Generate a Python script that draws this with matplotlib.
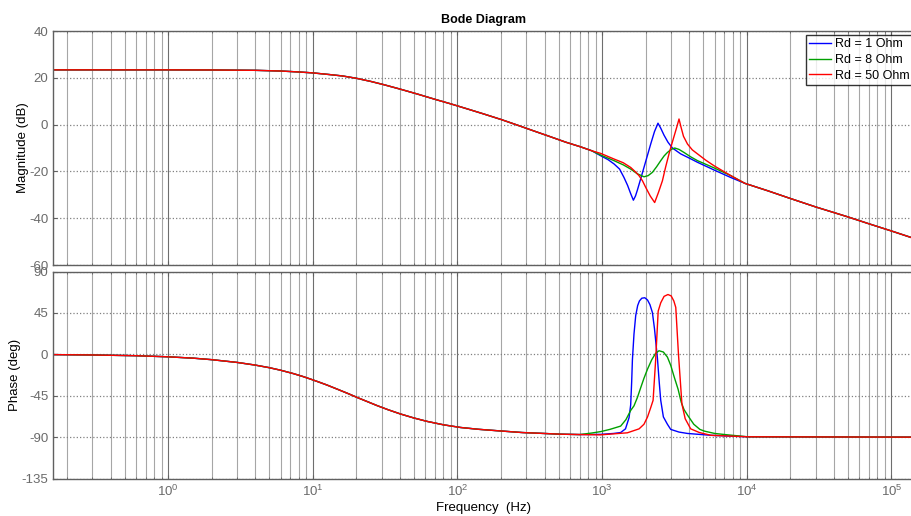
import matplotlib
matplotlib.use('Agg')
import matplotlib.pyplot as plt
from matplotlib.ticker import LogLocator, NullFormatter
import numpy as np

plt.rcParams['font.family'] = ['Liberation Sans', 'DejaVu Sans']
plt.rcParams['axes.unicode_minus'] = False

# shared low-frequency part (Hz, dB / deg)
f_mag_low = [0.16, 1, 2, 4, 6, 8, 10, 13, 16, 20, 25, 30.8, 40, 52.6, 70, 89.5,
             120, 151, 200, 259, 330, 440, 560, 710, 850]
mag_low = [23.4, 23.4, 23.35, 23.2, 22.9, 22.5, 22.1, 21.4, 20.8, 19.8, 18.5, 17.1, 15.2, 13.1, 10.8, 8.9,
           6.5, 4.6, 2.2, -0.2, -2.5, -5.2, -7.5, -9.5, -11.2]

f_mag_high = [9700, 14000, 19630, 30000, 49770, 70000, 99300, 140900]
mag_high = [-25.1, -28.3, -31.4, -35.2, -39.4, -42.4, -45.4, -48.5]

f_ph_low = [0.16, 0.3, 0.6, 1, 1.5, 2, 3, 4, 5, 6, 7.36, 8.5, 9.6, 11, 12.5, 15, 17.5,
            20.2, 24, 27.8, 33, 40.3, 50, 61.7, 80, 105, 140, 199, 280, 395, 516, 700]
ph_low = [-0.3, -0.7, -1.5, -2.7, -4.2, -5.8, -8.8, -11.7, -14.5, -17.3, -21, -24, -26.8, -30.1, -33.3,
          -38.3, -42.6, -46.8, -51.6, -55.7, -60.1, -64.8, -69.2, -72.9, -76.6, -79.5, -81.5, -83.3,
          -85, -86, -86.8, -87.2]

f_ph_high = [10100, 140900]
ph_high = [-89.6, -90]

# resonance region, per Rd
f_mag_rd1 = [977, 1100, 1208, 1320, 1416, 1500, 1575, 1644, 1700, 1752, 1850, 1946, 2060, 2166, 2300,
             2432, 2540, 2677, 2850, 3060, 3490, 4000, 4561, 5943, 7745]
mag_rd1 = [-13.3, -15, -16.8, -19, -22.6, -26, -29.5, -32.3, -30.5, -28, -23, -18.3, -13, -8.3, -3,
           0.6, -1.5, -4.5, -7.5, -10, -12.5, -14.3, -16.1, -19.4, -22.6]

f_mag_rd8 = [977, 1208, 1400, 1575, 1750, 1946, 2080, 2225, 2380, 2541, 2680, 2826, 3000, 3176,
             3400, 3680, 4100, 4561, 5943, 7745]
mag_rd8 = [-13, -15.4, -17.2, -19, -21, -22.3, -21.8, -20.4, -18, -15.4, -13.4, -11.9, -10.6, -10,
           -10.6, -11.9, -13.8, -15.4, -18.5, -21.8]

f_mag_rd50 = [977, 1208, 1400, 1575, 1700, 1798, 1900, 2000, 2150, 2307, 2450, 2610, 2750, 2899,
              3040, 3176, 3300, 3399, 3500, 3650, 3890, 4200, 4561, 5200, 5943, 7745]
mag_rd50 = [-12.3, -14.7, -16.3, -18.3, -20.2, -21.8, -24, -26.8, -30.5, -33.3, -29, -24, -18, -12.5,
            -8, -4, -0.5, 2.4, -0.8, -5, -8.3, -10.8, -12.5, -15.2, -17.6, -21.8]

f_ph_rd1 = [977, 1200, 1343, 1450, 1534, 1575, 1600, 1619, 1660, 1706, 1760, 1810, 1880, 1971,
            2060, 2140, 2225, 2300, 2410, 2480, 2541, 2650, 2826, 2979, 3400, 3890, 5636]
ph_rd1 = [-87, -86, -85, -81, -69, -55, -30, -6, 22, 42, 53, 58, 61, 61.5,
          59, 54, 45.5, 28, -4, -30, -50, -68, -76, -81.6, -84.5, -86, -88]

f_ph_rd8 = [850, 977, 1130, 1343, 1460, 1575, 1660, 1752, 1850, 1946, 2060, 2200, 2340, 2472,
            2650, 2826, 2980, 3140, 3350, 3520, 3680, 3890, 4300, 4740, 5100, 6000, 7350]
ph_rd8 = [-85.5, -84, -81.6, -78, -71, -61, -56, -47, -36, -26, -16, -6, 1, 3.9,
          2.5, -3, -12, -24, -38, -52, -60, -66, -76, -81.6, -83.5, -86, -87.5]

f_ph_rd50 = [977, 1493, 1800, 1946, 2060, 2166, 2250, 2344, 2440, 2541, 2680, 2850, 3000, 3130,
             3228, 3370, 3560, 3750, 4093, 4700, 5636]
ph_rd50 = [-87.5, -85.3, -81, -76, -68, -58, -50, -6, 47, 56, 63, 65, 63.5, 58,
           51, 0, -54, -70, -81, -85, -88]

labels = ['Rd = 1 Ohm', 'Rd = 8 Ohm', 'Rd = 50 Ohm']
colors = ['#0000ff', '#00a000', '#ff0000']

mag_series = [(f_mag_rd1, mag_rd1), (f_mag_rd8, mag_rd8), (f_mag_rd50, mag_rd50)]
ph_series = [(f_ph_rd1, ph_rd1), (f_ph_rd8, ph_rd8), (f_ph_rd50, ph_rd50)]

fig = plt.figure(figsize=(9.12, 5.16), dpi=100)
ax1 = fig.add_axes([0.0581, 0.4864, 0.945, 0.4535])
ax2 = fig.add_axes([0.0581, 0.0726, 0.945, 0.4012])

for (fm, m), (fp, p), c, lab in zip(mag_series, ph_series, colors, labels):
    ax1.plot(f_mag_low + fm + f_mag_high, mag_low + m + mag_high, color=c, lw=1.0, label=lab)
    ax2.plot(f_ph_low + fp + f_ph_high, ph_low + p + ph_high, color=c, lw=1.0)

for ax in (ax1, ax2):
    ax.set_xscale('log')
    ax.set_xlim(0.16, 1.45e5)
    ax.xaxis.set_major_locator(LogLocator(base=10, numticks=20))
    ax.xaxis.set_minor_locator(LogLocator(base=10, subs=np.arange(2, 10), numticks=20))
    ax.xaxis.set_minor_formatter(NullFormatter())
    ax.grid(True, which='major', axis='x', color='#6e6e6e', linestyle='-', lw=0.8)
    ax.grid(True, which='minor', axis='x', color='#a6a6a6', linestyle='-', lw=0.8)
    ax.grid(True, which='major', axis='y', color='#808080', linestyle=':', lw=0.9)
    ax.tick_params(which='both', direction='in', top=True, right=True, colors='#606060',
                   labelcolor='#6a6a6a', labelsize=9.5, length=3)
    ax.tick_params(which='minor', length=1.5)
    for s in ax.spines.values():
        s.set_color('#606060')
        s.set_linewidth(1.0)

ax1.set_ylim(-60, 40)
ax1.set_yticks([-60, -40, -20, 0, 20, 40])
ax1.tick_params(labelbottom=False)
ax2.set_ylim(-135, 90)
ax2.set_yticks([-135, -90, -45, 0, 45, 90])

ax1.set_ylabel('Magnitude (dB)', fontsize=9.5, labelpad=0)
ax2.set_ylabel('Phase (deg)', fontsize=9.5, labelpad=0)
ax2.set_xlabel('Frequency  (Hz)', fontsize=9.5, labelpad=2.5)
ax1.set_title('Bode Diagram', fontsize=9, fontweight='bold', pad=6)

leg = ax1.legend(loc='upper left', fontsize=9, frameon=True, fancybox=False,
                 borderpad=0.25, handlelength=1.75, handletextpad=0.35, labelspacing=0.3,
                 borderaxespad=0, bbox_to_anchor=(806 / 912, 1 - 35 / 516),
                 bbox_transform=fig.transFigure)
leg.get_frame().set_edgecolor('black')
leg.get_frame().set_linewidth(1.0)

fig.savefig('out.png', dpi=100)
